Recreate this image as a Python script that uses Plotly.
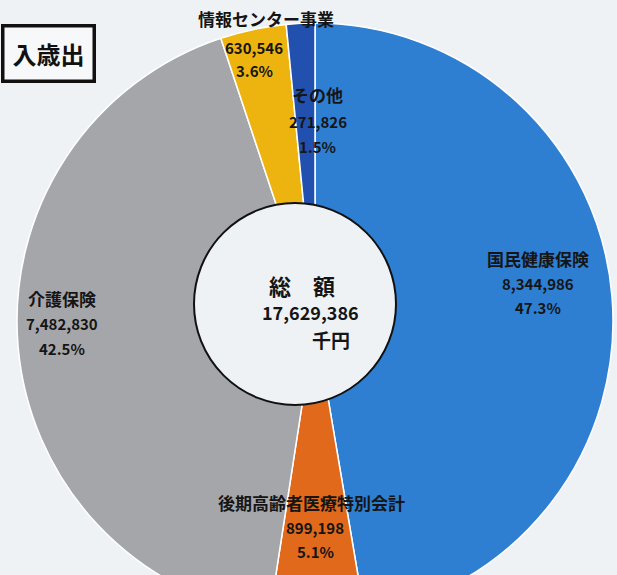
import plotly.graph_objects as go

# ---- data ----
categories = ["国民健康保険", "後期高齢者医療特別会計", "介護保険", "情報センター事業", "その他"]
values = [8344986, 899198, 7482830, 630546, 271826]
percent_labels = ["47.3%", "5.1%", "42.5%", "3.6%", "1.5%"]
total_label = "17,629,386"
title_text = "入歳出"

# ---- styles / positions ----
colors = ["#2E7FD2", "#E0691C", "#A5A6AA", "#EDB40F", "#2150AE"]
W, H = 617, 620
FONT = "Noto Sans CJK JP"
BG = "#EFF2F4"

def px_x(x):
    return x / W

def px_y(y):
    return 1 - y / H

# main pie: center (315, 321), radius 298
cx, cy, R = 315, 321, 298
# inner disc: center (295, 304), radius 101
icx, icy, iR = 295, 304, 101

fig = go.Figure()
fig.add_trace(go.Pie(
    labels=categories,
    values=values,
    sort=False,
    direction="clockwise",
    rotation=0,
    marker=dict(colors=colors, line=dict(color="white", width=1.5)),
    textinfo="none",
    hoverinfo="label+value+percent",
    showlegend=False,
    domain=dict(x=[px_x(cx - R), px_x(cx + R)], y=[px_y(cy + R), px_y(cy - R)]),
))
fig.add_trace(go.Pie(
    labels=["総額"],
    values=[sum(values)],
    marker=dict(colors=["#EEF2F5"], line=dict(color="#111111", width=2)),
    textinfo="none",
    hoverinfo="skip",
    showlegend=False,
    domain=dict(x=[px_x(icx - iR), px_x(icx + iR)], y=[px_y(icy + iR), px_y(icy - iR)]),
))

# label positions: (name_x, name_y, num_x, num_y, pct_x, pct_y)
label_pos = {
    "国民健康保険": (538, 258, 538, 283, 538, 307),
    "後期高齢者医療特別会計": (311, 502, 315, 527, 315, 551),
    "介護保険": (62, 299, 62, 323, 62, 348),
    "情報センター事業": (266, 18, 254, 48, 254, 71),
    "その他": (318, 95, 318, 121, 318, 146),
}

annotations = []
def add_text(text, x, y, size):
    annotations.append(dict(
        text=f"<b>{text}</b>", x=px_x(x), y=px_y(y), xref="paper", yref="paper",
        xanchor="center", yanchor="middle", showarrow=False,
        font=dict(family=FONT, size=size, color="#151515"),
    ))

for name, val, pct in zip(categories, values, percent_labels):
    nx, ny, vx, vy, qx, qy = label_pos[name]
    add_text(name, nx, ny, 17)
    add_text(f"{val:,}", vx, vy, 15)
    add_text(pct, qx, qy, 15)

# center text
add_text("総　額", 302, 285, 22)
add_text(total_label, 310, 312, 18)
add_text("千円", 331, 339, 19)

# title box at the top-left corner
annotations.append(dict(
    text=f"<b>{title_text}</b>", x=px_x(96), y=px_y(24), xref="paper", yref="paper",
    xanchor="right", yanchor="top", showarrow=False, width=82, height=46,
    align="center", valign="middle", borderpad=3, borderwidth=3.5, bordercolor="#111111",
    bgcolor="#F7F8F9", font=dict(family=FONT, size=24, color="#111111"),
))

fig.update_layout(
    width=W, height=H,
    margin=dict(l=0, r=0, t=0, b=0),
    paper_bgcolor=BG,
    plot_bgcolor=BG,
    annotations=annotations,
)

fig.write_html(
    "out.html",
    config={"displayModeBar": False},
    post_script="document.body.style.margin='0';document.body.style.overflow='hidden';",
)
